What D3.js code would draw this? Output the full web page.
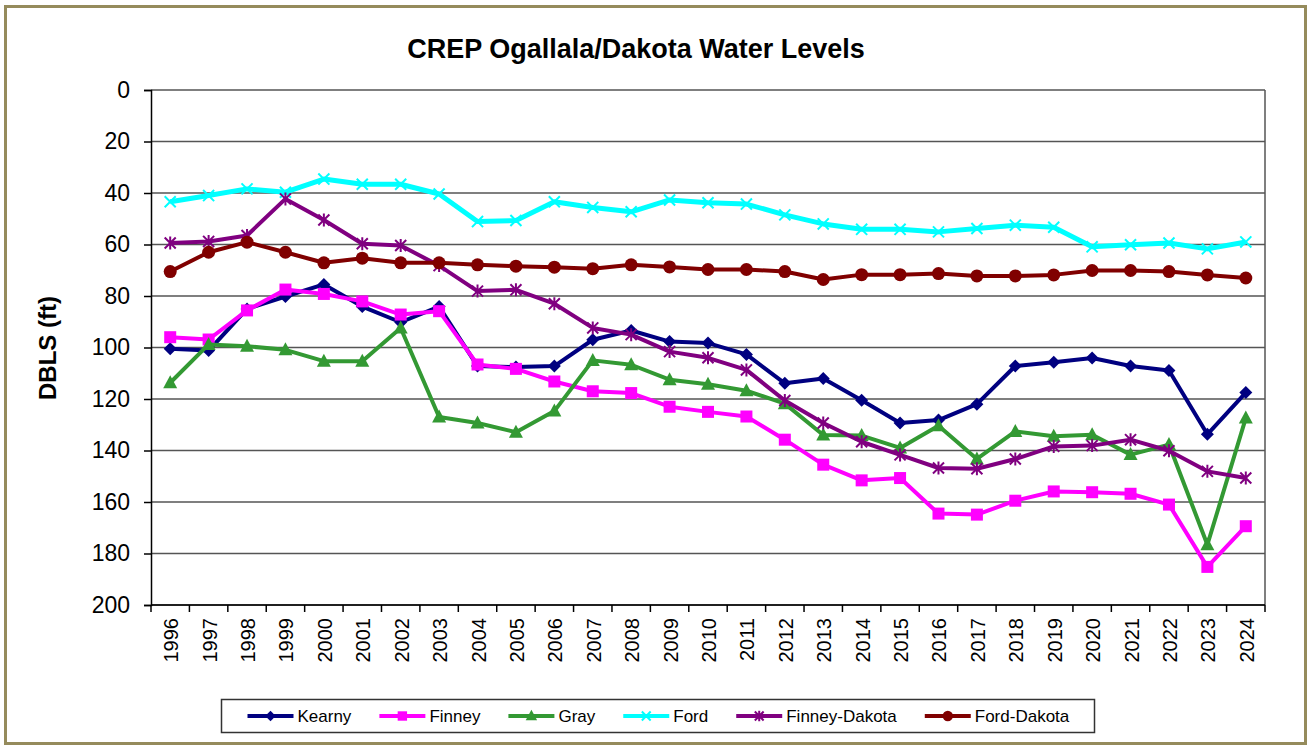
<html>
<head>
  <meta charset="UTF-8" />
  <title>CREP Ogallala/Dakota Water Levels</title>
  <script src="https://d3js.org/d3.v7.min.js"></script>
  <style>
    body { margin: 0; background: #ffffff; }
    text { font-family: Arial, "Liberation Sans", sans-serif; }
  </style>
</head>
<body>
<div id="chart"></div>
<script>
  // years along the bottom
  var years = ["1996","1997","1998","1999","2000","2001","2002","2003","2004","2005",
    "2006","2007","2008","2009","2010","2011","2012","2013","2014","2015",
    "2016","2017","2018","2019","2020","2021","2022","2023","2024"];
  var yTicks = [0, 20, 40, 60, 80, 100, 120, 140, 160, 180, 200];

  // depth below land surface (ft)
  var kearny = [100.5, 101.2, 85, 80.2, 75.5, 84.1, 90.2, 84.1, 107.2, 107.6, 107.2, 97, 93.4, 97.7, 98.3,
    102.7, 113.9, 112, 120.5, 129.3, 128.2, 122, 107.2, 105.7, 104.1, 107.2, 108.9, 133.7, 117.5];
  var finney = [96, 96.9, 85.6, 77.5, 79.2, 82.1, 87.2, 85.9, 106.6, 108.3, 113.2, 117, 117.7, 123, 125,
    126.8, 135.8, 145.5, 151.6, 150.7, 164.5, 164.9, 159.5, 155.9, 156.2, 156.8, 161, 185.2, 169.4];
  var gray = [113.7, 98.8, 99.5, 100.9, 105.3, 105.3, 92.4, 127, 129.3, 132.9, 124.7, 105, 106.7, 112.5, 114.3,
    116.8, 121.8, 134, 134.2, 139, 130.4, 143.3, 132.6, 134.5, 133.9, 141.6, 137.7, 176.6, 127.4];
  var ford = [43.4, 41, 38.4, 39.7, 34.6, 36.6, 36.6, 40.4, 51.1, 50.7, 43.4, 45.6, 47.3, 42.7, 43.8,
    44.3, 48.5, 52, 54.1, 54.1, 55.1, 53.8, 52.5, 53.3, 60.9, 60.1, 59.4, 61.7, 59];
  var finneyDakota = [59.4, 58.8, 56.5, 42.3, 50.5, 59.7, 60.4, 68.2, 78.1, 77.6, 83, 92.4, 95, 101.6, 104,
    108.7, 120.6, 129.3, 136.6, 141.7, 146.8, 147.1, 143.3, 138.4, 138.1, 135.8, 140.1, 148.1, 150.7];
  var fordDakota = [70.5, 63, 59.1, 63, 67.1, 65.3, 67.1, 67.1, 67.9, 68.4, 68.8, 69.4, 67.9, 68.7, 69.7,
    69.7, 70.5, 73.6, 71.7, 71.7, 71.3, 72.2, 72.2, 71.8, 70.1, 70.1, 70.5, 71.8, 73];

  var seriesNames = ["Kearny", "Finney", "Gray", "Ford", "Finney-Dakota", "Ford-Dakota"];
  var seriesValues = [kearny, finney, gray, ford, finneyDakota, fordDakota];
  var seriesColors = ["#000080", "#ff00ff", "#339933", "#00ffff", "#800080", "#800000"];
  var seriesMarkers = ["diamond", "square", "triangle", "x", "star", "circle"];

  var W = 1310, H = 746;
  var m = {left: 151, right: 1265, top: 90, bottom: 605};

  var svg = d3.select("#chart").append("svg")
    .attr("width", W).attr("height", H);

  // outer frame
  svg.append("rect")
    .attr("x", 5.5).attr("y", 6.5).attr("width", 1300).attr("height", 737)
    .attr("fill", "#ffffff").attr("stroke", "#958b5c").attr("stroke-width", 3);

  var x = d3.scaleBand().domain(years).range([m.left, m.right]).padding(0);
  var y = d3.scaleLinear().domain([0, 200]).range([m.top, m.bottom]);
  function cx(i) { return x(years[i]) + x.bandwidth() / 2; }

  svg.append("text")
    .attr("x", 636).attr("y", 58)
    .attr("text-anchor", "middle")
    .attr("font-size", 27).attr("font-weight", "bold")
    .text("CREP Ogallala/Dakota Water Levels");

  // grid
  svg.append("g").selectAll("line")
    .data(yTicks)
    .enter().append("line")
    .attr("x1", m.left).attr("x2", m.right)
    .attr("y1", function(d) { return y(d); })
    .attr("y2", function(d) { return y(d); })
    .attr("stroke", "#555555").attr("stroke-width", 1.5);
  svg.append("line")
    .attr("x1", m.right).attr("x2", m.right).attr("y1", m.top).attr("y2", m.bottom)
    .attr("stroke", "#555555").attr("stroke-width", 1.5);

  // y axis
  var yAxis = d3.axisLeft(y).tickValues(yTicks).tickSize(7).tickPadding(14);
  var gY = svg.append("g").attr("transform", "translate(" + m.left + ",0)").call(yAxis);
  gY.select(".domain").attr("stroke", "#000").attr("stroke-width", 1.5);
  gY.selectAll(".tick line").attr("stroke", "#000").attr("stroke-width", 1.5);
  gY.selectAll(".tick text").attr("font-size", 23).attr("fill", "#000")
    .style("font-family", "Arial, 'Liberation Sans', sans-serif");

  // x axis, ticks on category boundaries
  var gX = svg.append("g").attr("transform", "translate(0," + m.bottom + ")");
  gX.append("line").attr("x1", m.left).attr("x2", m.right).attr("y1", 0).attr("y2", 0)
    .attr("stroke", "#000").attr("stroke-width", 1.5);
  gX.selectAll(".xt")
    .data(years.concat(["end"]))
    .enter().append("line")
    .attr("x1", function(d, i) { return m.left + i * x.bandwidth(); })
    .attr("x2", function(d, i) { return m.left + i * x.bandwidth(); })
    .attr("y1", 0).attr("y2", 7)
    .attr("stroke", "#000").attr("stroke-width", 1.5);
  gX.selectAll(".xl")
    .data(years)
    .enter().append("text")
    .attr("transform", function(d, i) { return "translate(" + (cx(i) + 1) + ",13) rotate(-90)"; })
    .attr("text-anchor", "end")
    .attr("dy", "0.35em")
    .attr("font-size", 20)
    .text(function(d) { return d; });

  svg.append("text")
    .attr("transform", "translate(56,348) rotate(-90)")
    .attr("text-anchor", "middle")
    .attr("font-size", 24).attr("font-weight", "bold")
    .text("DBLS (ft)");

  function drawMarker(g, type, color, s) {
    var r = 6.5 * s;
    if (type === "diamond") {
      g.append("path").attr("d", "M0," + (-r) + "L" + r + ",0L0," + r + "L" + (-r) + ",0Z").attr("fill", color);
    } else if (type === "square") {
      g.append("rect").attr("x", -r + 0.5).attr("y", -r + 0.5).attr("width", 2 * r - 1).attr("height", 2 * r - 1).attr("fill", color);
    } else if (type === "triangle") {
      g.append("path").attr("d", "M0," + (-r - 1) + "L" + (r + 0.5) + "," + (r - 1) + "L" + (-r - 0.5) + "," + (r - 1) + "Z").attr("fill", color);
    } else if (type === "circle") {
      g.append("circle").attr("r", r).attr("fill", color);
    } else if (type === "x" || type === "star") {
      var a = r * 0.85;
      g.append("path")
        .attr("d", "M" + (-a) + "," + (-a) + "L" + a + "," + a + "M" + (-a) + "," + a + "L" + a + "," + (-a) +
          (type === "star" ? "M0," + (-r) + "L0," + r : ""))
        .attr("stroke", color).attr("stroke-width", 2).attr("fill", "none");
    }
  }

  var line = d3.line()
    .x(function(d, i) { return cx(i); })
    .y(function(d) { return y(d); });

  var plot = svg.append("g");
  seriesValues.forEach(function(vals, k) {
    plot.append("path")
      .datum(vals)
      .attr("d", line)
      .attr("fill", "none")
      .attr("stroke", seriesColors[k])
      .attr("stroke-width", k === 3 ? 5 : 4)
      .attr("stroke-linejoin", "round");
    vals.forEach(function(v, i) {
      var g = plot.append("g").attr("transform", "translate(" + cx(i) + "," + y(v) + ")");
      drawMarker(g, seriesMarkers[k], seriesColors[k], 1);
    });
  });

  // legend
  var legend = svg.append("g");
  legend.append("rect")
    .attr("x", 221.5).attr("y", 699.5).attr("width", 873).attr("height", 33)
    .attr("fill", "#ffffff").attr("stroke", "#333333").attr("stroke-width", 1.5);
  var lx = 247.5, ly = 716;
  seriesNames.forEach(function(name, k) {
    legend.append("line")
      .attr("x1", lx).attr("x2", lx + 46).attr("y1", ly).attr("y2", ly)
      .attr("stroke", seriesColors[k]).attr("stroke-width", 4);
    var g = legend.append("g").attr("transform", "translate(" + (lx + 23) + "," + ly + ")");
    drawMarker(g, seriesMarkers[k], seriesColors[k], 0.8);
    var t = legend.append("text")
      .attr("x", lx + 50).attr("y", ly).attr("dy", "0.36em")
      .attr("font-size", 17)
      .text(name);
    lx = lx + 50 + t.node().getComputedTextLength() + 28;
  });
</script>
</body>
</html>
